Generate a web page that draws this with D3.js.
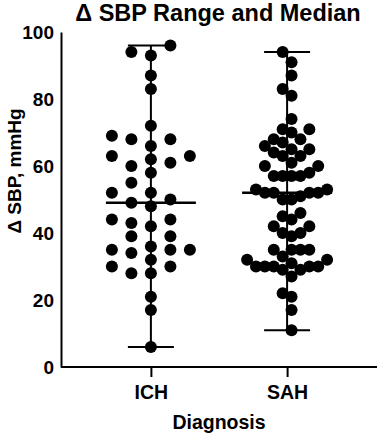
<!DOCTYPE html>
<html>
<head>
<meta charset="utf-8">
<script src="https://cdn.jsdelivr.net/npm/d3@7"></script>
<style>
  body { margin: 0; background: #fff; }
  text { font-family: "Liberation Sans", Arial, sans-serif; font-weight: bold; fill: #000; }
</style>
</head>
<body>
<svg id="chart"></svg>
<script>
// Chart size
const width = 383;
const height = 438;

// Data
const categories = ["ICH", "SAH"];
const ichValues = [96, 94, 93, 87, 83, 72, 68, 69, 68, 66, 63, 61, 62, 58, 63, 60, 55, 52, 52, 50,
    49, 48, 43, 42, 44, 44, 39, 39, 36, 32, 35, 35, 34, 35, 30, 28, 30, 28, 21, 17, 6];
const sahValues = [94, 91, 87, 83, 81, 74, 71, 70, 71, 67, 68, 68, 65, 64, 63, 65, 66, 60, 61, 63,
    60, 57, 57, 57, 58, 57, 51, 52, 52, 52, 52, 53, 53, 50, 50, 46, 45, 44, 42, 42, 40, 40, 39,
    35, 35, 35, 35, 33, 32, 31, 30, 29, 29, 32, 30, 30, 30, 30, 27, 22, 21, 17, 11];
const yTicks = [0, 20, 40, 60, 80, 100];

const groups = [ichValues, sahValues];

const svg = d3.select("#chart")
    .attr("width", width)
    .attr("height", height);

// Scales
const x = d3.scalePoint()
    .domain(categories)
    .range([61, 377])
    .padding(0.66);

const y = d3.scaleLinear()
    .domain([0, 100])
    .range([367, 32]);

const r = 6;

// Simple column swarm: sorted points go to the first free slot (0, -1, +1, -2, +2 ...)
function swarm(values) {
    const placed = [];
    values.slice().sort(d3.ascending).forEach(v => {
        const py = y(v);
        for (let k = 0; ; k++) {
            const slot = k === 0 ? 0 : (k % 2 ? -Math.ceil(k / 2) : Math.ceil(k / 2));
            if (!placed.some(p => p.slot === slot && Math.abs(p.y - py) < 2 * r)) {
                placed.push({ v: v, y: py, slot: slot });
                break;
            }
        }
    });
    const lo = d3.min(placed, p => p.slot);
    const hi = d3.max(placed, p => p.slot);
    const step = Math.min(19.5, 80 / Math.max(1, hi - lo));
    const shift = -(hi + lo) / 2 * step;
    placed.forEach(p => p.dx = p.slot * step + shift);
    return placed;
}

// Title
svg.append("text")
    .attr("x", 218)
    .attr("y", 21)
    .attr("text-anchor", "middle")
    .style("font-size", "23.5px")
    .text("Δ SBP Range and Median");

// Y axis (line + labels, no tick marks)
const yAxis = d3.axisLeft(y)
    .tickValues(yTicks)
    .tickSize(0)
    .tickPadding(7);

const gy = svg.append("g")
    .attr("transform", "translate(61,0)")
    .call(yAxis);
gy.select(".domain").attr("stroke", "#000").attr("stroke-width", 2);
gy.selectAll("text")
    .style("font-size", "19px")
    .style("font-family", "'Liberation Sans', Arial, sans-serif")
    .style("font-weight", "bold");

// X axis
const xAxis = d3.axisBottom(x)
    .tickSize(10)
    .tickPadding(8)
    .tickSizeOuter(0);

const gx = svg.append("g")
    .attr("transform", "translate(0,367)")
    .call(xAxis);
gx.select(".domain").attr("stroke", "#000").attr("stroke-width", 2)
    .attr("d", "M61,0H377");
gx.selectAll(".tick line").attr("stroke", "#000").attr("stroke-width", 2);
gx.selectAll("text")
    .style("font-size", "19.5px")
    .style("font-family", "'Liberation Sans', Arial, sans-serif")
    .style("font-weight", "bold");

// Axis titles
svg.append("text")
    .attr("transform", "translate(21,171) rotate(-90)")
    .attr("text-anchor", "middle")
    .style("font-size", "19px")
    .text("Δ SBP, mmHg");

svg.append("text")
    .attr("x", 219)
    .attr("y", 429)
    .attr("text-anchor", "middle")
    .style("font-size", "19.5px")
    .text("Diagnosis");

// Range bars, median line and dots for each group
groups.forEach((values, i) => {
    const cx = x(categories[i]);
    const [lo, hi] = d3.extent(values);
    const med = d3.median(values);
    const g = svg.append("g");

    g.append("line")
        .attr("x1", cx).attr("x2", cx)
        .attr("y1", y(lo)).attr("y2", y(hi))
        .attr("stroke", "#000").attr("stroke-width", 2);

    [lo, hi].forEach(v => {
        g.append("line")
            .attr("x1", cx - 23).attr("x2", cx + 23)
            .attr("y1", y(v)).attr("y2", y(v))
            .attr("stroke", "#000").attr("stroke-width", 2);
    });

    g.append("line")
        .attr("x1", cx - 45).attr("x2", cx + 45)
        .attr("y1", y(med)).attr("y2", y(med))
        .attr("stroke", "#000").attr("stroke-width", 2.5);

    g.selectAll("circle")
        .data(swarm(values))
        .enter().append("circle")
        .attr("cx", d => cx + d.dx)
        .attr("cy", d => d.y)
        .attr("r", r)
        .attr("fill", "#000");
});
</script>
</body>
</html>
